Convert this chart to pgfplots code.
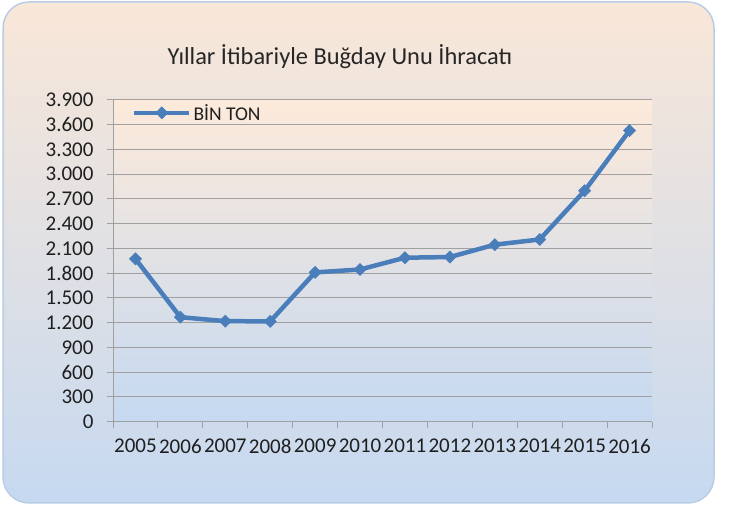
\documentclass[border=0pt]{standalone}
\usepackage{pgfplots}
\pgfplotsset{compat=1.18}
\usepackage{fontspec}
\setmainfont{Carlito}
\definecolor{outtop}{HTML}{F9E7D8}
\definecolor{outbot}{HTML}{C6D9F0}
\definecolor{intop}{HTML}{FDEADA}
\definecolor{inbot}{HTML}{C5D9F1}
\definecolor{series}{HTML}{4A7EBB}
\definecolor{gridc}{HTML}{A0A0A0}
\definecolor{frame}{HTML}{B9CDE5}
\begin{document}
\begin{tikzpicture}[x=1bp,y=1bp]
\path[use as bounding box] (0,0) rectangle (729,510);
\shade[top color=outtop, bottom color=outbot, rounded corners=26bp, draw=frame, line width=1.5bp] (3,7) rectangle (714,508);
\node[font=\fontsize{24.4bp}{28bp}\selectfont, text=black!85] at (340,453) {Yıllar İtibariyle Buğday Unu İhracatı};
\begin{axis}[
  at={(113bp,88.3bp)}, anchor=south west,
  scale only axis, width=539bp, height=321.7bp,
  xmin=0, xmax=12, ymin=0, ymax=3900,
  axis lines=left,
  axis line style={-, draw=gridc, line width=1bp},
  axis background/.style={top color=intop, bottom color=inbot},
  ytick={0,300,...,3900},
  xtick={0,...,12},
  x tick label as interval,
  xticklabels={2005,2006,2007,2008,2009,2010,2011,2012,2013,2014,2015,2016},
  ymajorgrids,
  grid style={draw=gridc, line width=1bp},
  tick align=outside,
  major tick length=6bp,
  tick style={draw=gridc, line width=1bp},
  ticklabel style={font=\fontsize{21bp}{25bp}\selectfont, text=black!88},
  yticklabel style={xshift=-10bp},
  xticklabel style={yshift=-8bp},
  /pgf/number format/.cd, 1000 sep={.}, assume math mode=true,
  /pgfplots/.cd,
  legend style={at={(axis description cs:0.035,0.96)}, anchor=west, draw=none, fill=none,
     font=\fontsize{19.5bp}{23bp}\selectfont, text=black!88, inner sep=0pt},
  legend cell align=left,
  legend image code/.code={\draw[mark repeat=2,mark phase=2,#1] plot coordinates {(0bp,0bp) (27.5bp,0bp) (55bp,0bp)};},
  clip=false,
]
\addplot[color=series, line width=4.5bp, mark=square*, mark size=4.3bp, mark options={rotate=45, solid, line width=0.5bp}]
 coordinates {(0.5,1974) (1.5,1267) (2.5,1219) (3.5,1216) (4.5,1810) (5.5,1845) (6.5,1988) (7.5,1996) (8.5,2146) (9.5,2209) (10.5,2800) (11.5,3530)};
\addlegendentry{BİN TON}
\end{axis}
\end{tikzpicture}
\end{document}
